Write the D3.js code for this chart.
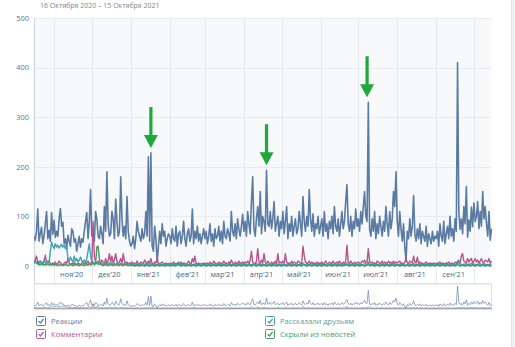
<!DOCTYPE html>
<html><head><meta charset="utf-8">
<script src="https://cdn.jsdelivr.net/npm/d3@7"></script>
<style>html,body{margin:0;padding:0;background:#fff;overflow:hidden}svg{display:block;font-family:"Open Sans","Noto Sans",sans-serif}</style>
</head><body><svg id="c" width="515" height="347"></svg>
<script>
const titleText = "16 Октября 2020 – 15 Октября 2021";
const startDate = "2020-10-16";
const endDate = "2021-10-15";
const yTicks = [0, 100, 200, 300, 400, 500];
const monthLabels = ["ноя'20","дек'20","янв'21","фев'21","мар'21","апр'21","май'21","июн'21","июл'21","авг'21","сен'21"];
const seriesNames = ["Реакции","Комментарии","Рассказали друзьям","Скрыли из новостей"];

// daily values, 16 Oct 2020 .. 15 Oct 2021 (one row per month)
const reactions = [
60,52,70,115,50,65,78,45,60,85,110,55,72,50,108,64,
92,58,70,60,95,116,80,88,45,55,35,62,50,40,75,70,48,55,30,45,60,38,55,48,70,90,108,55,90,154,
60,75,50,110,95,60,55,80,65,45,120,70,190,85,60,65,110,95,55,135,90,60,70,180,95,60,80,55,140,70,50,
40,45,60,35,55,90,70,60,50,75,55,65,110,60,220,50,228,40,30,80,55,8,40,70,45,85,60,70,40,55,65,
60,45,75,55,50,80,40,65,70,45,60,90,55,40,65,75,50,60,115,45,70,55,80,50,65,45,60,75,
55,70,45,60,85,50,65,40,75,55,60,80,50,70,45,90,60,55,75,65,50,110,70,60,85,55,95,75,60,80,104,
70,90,60,110,85,65,130,180,75,60,95,120,80,150,65,100,90,70,193,85,80,110,75,95,130,70,85,100,60,90,
75,110,65,90,120,55,85,70,100,60,80,95,65,75,110,85,60,140,90,70,100,80,154,95,70,105,60,85,75,100,65,
80,95,60,110,70,85,55,90,75,100,65,120,80,70,95,60,85,110,75,90,130,164,85,70,100,60,90,75,115,80,
95,70,110,85,120,150,100,90,330,75,60,95,70,110,55,85,65,100,80,60,90,70,120,85,60,110,75,95,150,120,190,
90,60,110,75,50,85,40,9,70,55,95,60,80,142,65,50,75,55,85,45,70,60,50,80,40,65,55,45,70,50,60,
55,70,40,85,60,50,90,45,65,80,55,100,60,75,50,95,70,410,110,74,95,65,120,85,160,58,93,70,119,79,
127,90,100,130,75,110,80,150,95,120,85,60,110,52,75
];
const comments = [
8,12,20,6,4,10,5,3,8,22,6,4,10,5,3,6,
4,8,3,5,10,6,4,2,6,8,5,15,6,3,5,4,8,3,2,6,4,3,5,8,4,6,5,10,4,6,
6,90,20,8,5,10,4,6,12,8,5,15,6,10,25,8,20,6,12,25,10,5,8,15,6,25,10,5,8,4,6,
5,8,4,6,3,10,5,4,8,6,5,12,8,4,10,6,15,5,4,8,6,15,5,4,6,8,5,3,6,4,5,
4,6,3,8,5,4,6,3,5,8,4,6,5,3,6,10,5,4,15,8,20,5,4,6,3,5,4,6,
5,4,6,3,8,5,4,10,6,5,4,8,5,6,4,10,5,6,4,8,5,12,6,4,8,5,6,10,5,6,8,
5,8,6,10,5,12,30,8,6,4,10,35,8,5,12,6,25,8,5,10,6,4,8,5,6,10,4,25,6,8,
5,10,6,25,8,5,6,4,10,5,8,6,4,10,8,5,6,40,20,8,5,6,10,4,8,5,6,4,8,5,6,
5,8,4,6,10,5,4,8,6,5,10,4,6,8,5,10,6,4,8,5,10,42,8,5,10,6,4,8,5,6,
8,5,6,10,8,12,6,8,35,10,6,8,5,6,4,10,8,5,6,10,4,8,6,5,10,6,8,4,10,6,8,
6,8,10,5,6,4,8,15,6,5,10,8,6,20,8,6,18,5,8,6,5,4,6,8,5,4,6,5,4,6,5,
4,6,5,8,4,6,5,4,6,5,8,4,6,5,4,8,6,10,8,6,20,25,10,8,6,15,8,12,15,6,
10,15,8,12,6,10,15,8,6,12,10,8,15,6,10
];
const shares = [
5,8,6,4,10,6,8,5,12,6,8,10,6,30,48,40,
35,45,38,42,36,40,44,38,42,35,40,15,10,18,12,8,20,10,15,8,12,18,10,8,12,6,15,30,45,20,
10,6,4,8,5,3,6,4,5,3,4,6,3,5,4,8,3,4,5,3,6,4,3,5,4,3,6,4,3,5,4,
3,4,2,5,3,4,3,2,4,3,5,3,4,2,6,3,5,2,3,4,3,2,4,3,2,3,4,3,2,3,4,
3,2,4,3,2,3,5,2,3,4,2,3,2,4,3,2,3,5,2,3,4,2,3,2,3,4,2,3,
2,3,4,2,3,5,2,3,2,4,3,2,3,4,2,3,2,5,3,2,4,3,2,3,4,2,3,5,2,3,4,
3,4,2,3,5,3,2,4,3,2,5,3,4,2,3,4,2,3,6,2,3,4,3,2,3,5,2,3,4,2,
3,2,4,3,2,5,3,2,3,4,2,3,5,2,3,2,4,6,3,2,3,4,2,3,5,2,3,2,4,3,2,
3,4,2,3,2,5,3,2,4,3,2,3,5,2,3,4,2,3,2,4,3,6,2,3,4,2,3,2,4,3,
2,3,4,2,3,5,3,2,8,3,2,4,3,2,3,4,2,3,5,2,3,2,4,3,2,3,4,2,5,3,4,
3,2,4,3,2,3,2,1,3,2,4,3,2,5,3,2,3,2,4,3,2,3,2,4,2,3,2,3,2,4,3,
2,3,2,4,3,2,3,2,4,3,2,3,4,2,3,2,4,3,12,4,3,2,4,3,5,2,4,3,5,3,
4,3,2,4,3,5,2,4,3,4,2,3,2,4,3
];
const hidden = [
8,10,6,4,3,2,4,3,2,3,2,4,2,3,2,3,
2,3,2,1,2,3,2,1,2,3,2,1,2,3,2,1,2,3,4,2,1,2,3,2,1,2,3,2,4,2,
3,8,2,5,38,40,15,3,2,1,2,3,2,1,2,3,2,1,2,3,2,1,2,3,2,1,2,3,2,1,2,
1,2,1,0,1,2,1,0,1,2,1,0,1,2,1,0,1,2,1,0,1,2,1,0,1,2,1,0,1,2,1,
1,0,2,1,0,1,2,8,1,0,1,2,1,0,1,2,1,0,1,2,1,0,1,2,1,0,1,2,
1,0,1,2,1,0,1,2,1,0,1,2,1,0,1,2,1,0,1,2,1,0,1,2,1,0,1,2,1,0,1,
2,1,0,1,2,1,0,1,3,1,0,1,2,1,0,1,2,1,0,1,2,1,0,1,2,1,0,1,2,1,
0,1,2,1,0,1,2,1,0,1,2,1,0,1,2,1,0,3,2,1,0,1,2,1,0,1,2,1,0,1,2,
1,0,1,2,1,0,1,2,1,0,1,2,1,0,1,2,1,0,1,2,1,4,1,0,1,2,1,0,1,2,
1,0,1,2,1,0,1,2,5,0,1,2,1,0,1,2,1,0,1,2,1,0,1,2,1,0,1,2,1,0,1,
2,1,0,1,2,1,0,1,2,1,0,1,2,1,0,1,2,1,0,1,2,1,0,1,2,1,0,1,2,1,0,
1,2,1,0,1,2,1,0,1,2,1,0,1,2,1,0,1,6,1,0,1,2,1,0,1,2,1,0,1,2,
1,0,1,2,1,0,1,2,1,0,1,2,1,0,1
];
// annotation arrows (pointing at peaks): date + value they point to
const arrowDates = ["2021-01-17", "2021-04-19", "2021-07-08"];
const arrowValues = [228, 193, 330];

const lineColors = ["#5a7ba3", "#b9528f", "#3ea3b0", "#4b9a5b"];
const legendColors = ["#5b7ba5", "#b35a92", "#4a9fae", "#4d9a5f"];

const svg = d3.select("#c");
const parse = d3.utcParse("%Y-%m-%d");
const t0 = parse(startDate), t1 = parse(endDate);
const dates = reactions.map((_, i) => d3.utcDay.offset(t0, i));
const allSeries = [reactions, comments, shares, hidden];

const L = 34, R = 491.5, T = 18, B = 266;
const x = d3.scaleUtc().domain([t0, t1]).range([L, R]);
const y = d3.scaleLinear().domain([0, 500]).range([B, T]);

// background
svg.append("rect").attr("width", 515).attr("height", 347).attr("fill", "#fff");
svg.append("rect").attr("x", 511).attr("y", 0).attr("width", 4).attr("height", 347).attr("fill", "#eef0f3");
svg.append("line").attr("x1", 511.5).attr("x2", 511.5).attr("y1", 0).attr("y2", 347).attr("stroke", "#dfe3e8");

svg.append("text").attr("x", 40).attr("y", 8).attr("font-size", 7).attr("fill", "#7d8592").text(titleText);

svg.append("rect").attr("x", L).attr("y", T).attr("width", R - L).attr("height", B - T).attr("fill", "#f8f9fb");

const months = d3.utcMonth.range(d3.utcMonth.ceil(t0), t1);
// vertical grid lines (through axis band)
svg.append("g").selectAll("line").data(months).join("line")
  .attr("x1", d => Math.round(x(d)) + 0.5).attr("x2", d => Math.round(x(d)) + 0.5)
  .attr("y1", T).attr("y2", 283.5).attr("stroke", "#e6eaef").attr("stroke-width", 1);
// horizontal grid
svg.append("g").selectAll("line").data(yTicks).join("line")
  .attr("x1", L).attr("x2", R).attr("y1", d => Math.round(y(d)) + 0.5).attr("y2", d => Math.round(y(d)) + 0.5)
  .attr("stroke", "#e8ecf0");
// axis band bottom + left axis
svg.append("line").attr("x1", L).attr("x2", R).attr("y1", 283.5).attr("y2", 283.5).attr("stroke", "#d9dfe6");
svg.append("line").attr("x1", L + 0.5).attr("x2", L + 0.5).attr("y1", T).attr("y2", 283.5).attr("stroke", "#c9d3de");

// y labels
svg.append("g").selectAll("text").data(yTicks).join("text")
  .attr("x", 29).attr("y", d => y(d) + 2.8).attr("text-anchor", "end")
  .attr("font-size", 7.4).attr("fill", "#5c6f8c").text(d => d);
// x labels
svg.append("g").selectAll("text").data(months).join("text")
  .attr("x", d => x(d3.utcDay.offset(d, 14))).attr("y", 277).attr("text-anchor", "middle")
  .attr("font-size", 7.4).attr("fill", "#4f6485").text((d, i) => monthLabels[i]);

// main lines
const line = d3.line().x((d, i) => x(dates[i])).y(d => y(d)).curve(d3.curveLinear);
const widths = [1.6, 1.4, 1.4, 1.4];
const clip = svg.append("clipPath").attr("id", "pc").append("rect").attr("x", L).attr("y", T - 2).attr("width", R - L + 1).attr("height", B - T + 4);
const gl = svg.append("g").attr("clip-path", "url(#pc)");
allSeries.forEach((s, k) => {
  gl.append("path").attr("d", line(s)).attr("fill", "none").attr("stroke", lineColors[k])
    .attr("stroke-width", widths[k]).attr("stroke-linejoin", "round");
});

// annotation arrows
const ag = svg.append("g");
arrowDates.forEach((ds, i) => {
  const cx = x(parse(ds));
  const tip = y(arrowValues[i]) - 5;
  const top = tip - 41, headH = 13, hw = 7, sw = 1.6;
  const p = d3.path();
  p.moveTo(cx - sw, top); p.lineTo(cx + sw, top); p.lineTo(cx + sw, tip - headH);
  p.lineTo(cx + hw, tip - headH); p.lineTo(cx, tip); p.lineTo(cx - hw, tip - headH);
  p.lineTo(cx - sw, tip - headH); p.closePath();
  ag.append("path").attr("d", p.toString()).attr("fill", "#1fa83b");
});

// navigator
const NT = 284, NB = 309.5;
svg.append("rect").attr("x", L + 0.5).attr("y", NT).attr("width", R - L - 0.5).attr("height", NB - NT).attr("fill", "#fff").attr("stroke", "#dde3ea");
const yn = d3.scaleLinear().domain([0, d3.max(reactions)]).range([NB - 1, NT + 2]);
const nline = d3.line().x((d, i) => x(dates[i])).y(d => yn(d));
const navColors = ["#7891b5", "#c07aa6", "#6cb6c0", "#78b083"];
[3, 2, 1, 0].forEach(k => {
  svg.append("path").attr("d", nline(allSeries[k])).attr("fill", "none").attr("stroke", navColors[k]).attr("stroke-width", 0.8);
});

// legend
const legPos = [[36, 316], [36, 329], [265, 316], [265, 329]];
seriesNames.forEach((name, k) => {
  const [lx, ly] = legPos[k];
  const g = svg.append("g").attr("transform", `translate(${lx},${ly})`);
  g.append("rect").attr("x", 0.5).attr("y", 0.5).attr("width", 9).attr("height", 9).attr("rx", 1)
    .attr("fill", "#fff").attr("stroke", legendColors[k]).attr("stroke-width", 1);
  g.append("path").attr("d", "M2.6,5.2 L4.4,7 L7.6,2.8").attr("fill", "none").attr("stroke", legendColors[k]).attr("stroke-width", 1.3);
  g.append("text").attr("x", 15).attr("y", 7.8).attr("font-size", 7.6).attr("fill", legendColors[k]).text(name);
});
</script></body></html>
